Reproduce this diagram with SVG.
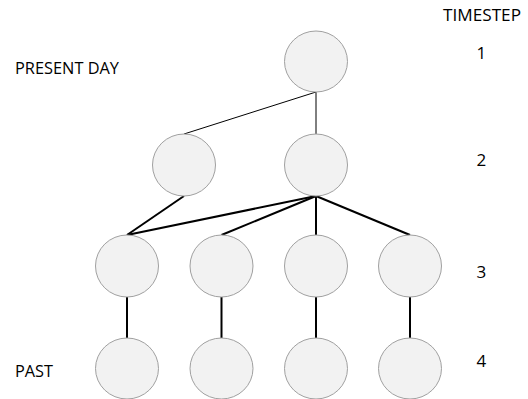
<svg xmlns="http://www.w3.org/2000/svg" width="528" height="399" viewBox="0 0 528 399">
<style>
.n{fill:#f2f2f2;stroke:#a0a0a0;stroke-width:1}
.t{font-family:"Open Sans","Liberation Sans",sans-serif;font-size:17px;fill:#000}
.thin{stroke:#000;stroke-width:1;fill:none}
.thick{stroke:#000;stroke-width:2;fill:none}
</style>
<rect width="528" height="399" fill="#fff"/>
<g id="connectors">
<line class="thin" x1="316" y1="92" x2="184" y2="134"/>
<line class="thin" x1="316" y1="92" x2="316" y2="134"/>
<line class="thick" x1="184" y1="196" x2="127" y2="235"/>
<line class="thick" x1="316" y1="196" x2="127" y2="235"/>
<line class="thick" x1="316" y1="196" x2="221.5" y2="235"/>
<line class="thick" x1="316" y1="196" x2="316" y2="235"/>
<line class="thick" x1="316" y1="196" x2="410" y2="235"/>
<line class="thick" x1="127" y1="297" x2="127" y2="338"/>
<line class="thick" x1="221.5" y1="297" x2="221.5" y2="338"/>
<line class="thick" x1="316" y1="297" x2="316" y2="338"/>
<line class="thick" x1="410" y1="297" x2="410" y2="338"/>
</g>
<g id="n1"><ellipse class="n" cx="316" cy="61.5" rx="31.5" ry="30.5"/></g>
<g id="n2a"><ellipse class="n" cx="184" cy="165" rx="31.5" ry="31"/></g>
<g id="n2b"><ellipse class="n" cx="316" cy="165" rx="31.5" ry="31"/></g>
<g id="n3a"><ellipse class="n" cx="127" cy="266" rx="31.5" ry="31"/></g>
<g id="n3b"><ellipse class="n" cx="221.5" cy="266" rx="31.5" ry="31"/></g>
<g id="n3c"><ellipse class="n" cx="316" cy="266" rx="31.5" ry="31"/></g>
<g id="n3d"><ellipse class="n" cx="410" cy="266" rx="31.5" ry="31"/></g>
<g id="n4a"><ellipse class="n" cx="127" cy="368.5" rx="31.5" ry="30.5"/></g>
<g id="n4b"><ellipse class="n" cx="221.5" cy="368.5" rx="31.5" ry="30.5"/></g>
<g id="n4c"><ellipse class="n" cx="316" cy="368.5" rx="31.5" ry="30.5"/></g>
<g id="n4d"><ellipse class="n" cx="410" cy="368.5" rx="31.5" ry="30.5"/></g>
<g id="labels">
<text class="t" x="443" y="21" textLength="78" lengthAdjust="spacingAndGlyphs">TIMESTEP</text>
<text class="t" x="15" y="74" textLength="104" lengthAdjust="spacingAndGlyphs">PRESENT DAY</text>
<text class="t" x="15" y="377" textLength="38" lengthAdjust="spacingAndGlyphs">PAST</text>
<text class="t" x="476.5" y="59">1</text>
<text class="t" x="476.5" y="166">2</text>
<text class="t" x="476.5" y="278">3</text>
<text class="t" x="476.5" y="367">4</text>
</g>
</svg>
